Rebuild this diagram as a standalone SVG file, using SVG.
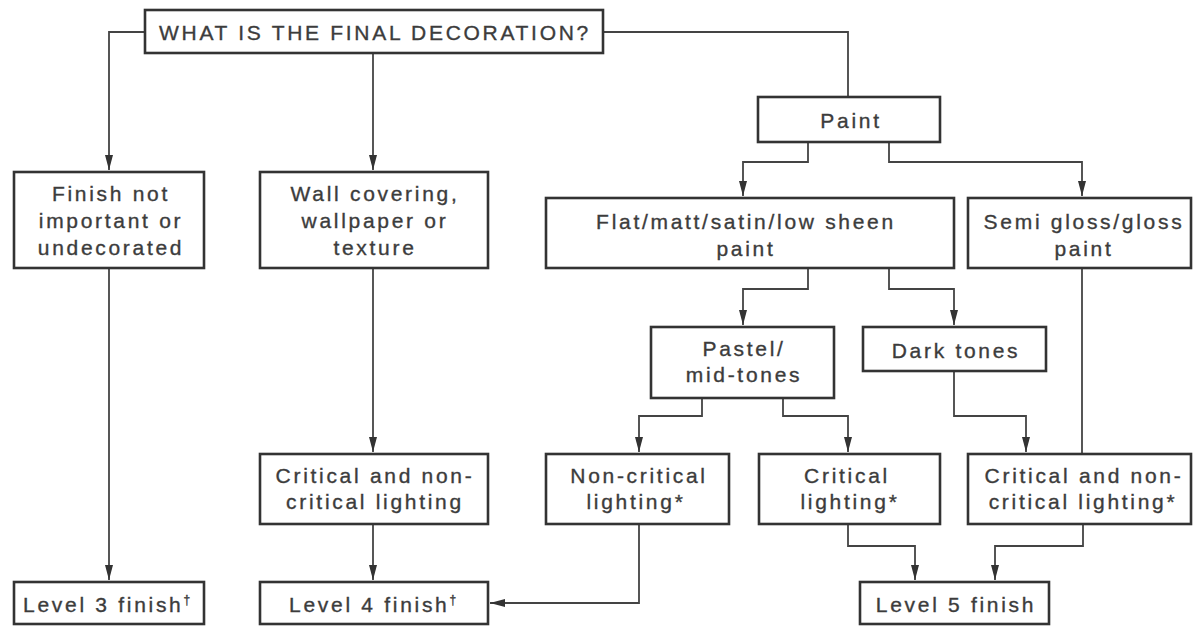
<svg xmlns="http://www.w3.org/2000/svg" width="1194" height="626" viewBox="0 0 1194 626">
<style>
.box{fill:#fff;stroke:#333;stroke-width:2.6}
.t{font-family:"Liberation Sans",Arial,sans-serif;font-size:21px;letter-spacing:2.7px;fill:#3c3c3c;stroke:#3c3c3c;stroke-width:0.35;text-anchor:middle}
.c{fill:none;stroke:#444;stroke-width:1.8}
</style>
<defs>
<marker id="ah" markerUnits="userSpaceOnUse" markerWidth="16" markerHeight="10" refX="15" refY="4.5" orient="auto">
<path d="M0,0.5 L15,4.5 L0,8.5 z" fill="#333"/>
</marker>
</defs>
<rect width="1194" height="626" fill="#fff"/>
<g id="connectors">
<path class="c" d="M145,32 H109 V170" marker-end="url(#ah)"/>
<path class="c" d="M373,53 V170" marker-end="url(#ah)"/>
<path class="c" d="M603,32 H848 V97"/>
<path class="c" d="M808,142 V162 H743 V196" marker-end="url(#ah)"/>
<path class="c" d="M889,142 V162 H1082 V196" marker-end="url(#ah)"/>
<path class="c" d="M808,268 V289 H743 V325" marker-end="url(#ah)"/>
<path class="c" d="M889,268 V289 H954 V325" marker-end="url(#ah)"/>
<path class="c" d="M1082,268 V454"/>
<path class="c" d="M373,268 V452" marker-end="url(#ah)"/>
<path class="c" d="M373,524 V580" marker-end="url(#ah)"/>
<path class="c" d="M109,268 V580" marker-end="url(#ah)"/>
<path class="c" d="M702,398 V416 H639 V452" marker-end="url(#ah)"/>
<path class="c" d="M783,398 V416 H848 V452" marker-end="url(#ah)"/>
<path class="c" d="M954,371 V416 H1026 V452" marker-end="url(#ah)"/>
<path class="c" d="M639,524 V603 H490" marker-end="url(#ah)"/>
<path class="c" d="M848,524 V546 H915 V580" marker-end="url(#ah)"/>
<path class="c" d="M1083,524 V546 H995 V580" marker-end="url(#ah)"/>
</g>
<g id="n-top"><rect class="box" x="145" y="10" width="458" height="43"/><text class="t" x="375" y="40">WHAT IS THE FINAL DECORATION?</text></g>
<g id="n-finish"><rect class="box" x="14" y="172" width="190" height="96"/><text class="t" x="111" y="201">Finish not</text><text class="t" x="111" y="228">important or</text><text class="t" x="111" y="255">undecorated</text></g>
<g id="n-wall"><rect class="box" x="260" y="172" width="228" height="96"/><text class="t" x="375" y="201">Wall covering,</text><text class="t" x="375" y="228">wallpaper or</text><text class="t" x="375" y="255">texture</text></g>
<g id="n-paint"><rect class="box" x="758" y="97" width="182" height="45"/><text class="t" x="851" y="128">Paint</text></g>
<g id="n-flat"><rect class="box" x="546" y="198" width="408" height="70"/><text class="t" x="746" y="229">Flat/matt/satin/low sheen</text><text class="t" x="746" y="256">paint</text></g>
<g id="n-semi"><rect class="box" x="968" y="198" width="223" height="70"/><text class="t" x="1084" y="229">Semi gloss/gloss</text><text class="t" x="1084" y="256">paint</text></g>
<g id="n-pastel"><rect class="box" x="651" y="327" width="183" height="71"/><text class="t" x="744" y="356">Pastel/</text><text class="t" x="744" y="382">mid-tones</text></g>
<g id="n-dark"><rect class="box" x="863" y="327" width="183" height="44"/><text class="t" x="956" y="358">Dark tones</text></g>
<g id="n-critnon-left"><rect class="box" x="260" y="454" width="228" height="70"/><text class="t" x="375" y="483">Critical and non-</text><text class="t" x="375" y="509">critical lighting</text></g>
<g id="n-noncrit"><rect class="box" x="546" y="454" width="183" height="70"/><text class="t" x="639" y="483">Non-critical</text><text class="t" x="636" y="509">lighting*</text></g>
<g id="n-crit"><rect class="box" x="759" y="454" width="181" height="70"/><text class="t" x="847" y="483">Critical</text><text class="t" x="850" y="509">lighting*</text></g>
<g id="n-critnon-right"><rect class="box" x="968" y="454" width="223" height="70"/><text class="t" x="1084" y="483">Critical and non-</text><text class="t" x="1083" y="509">critical lighting*</text></g>
<g id="n-l3"><rect class="box" x="14" y="582" width="190" height="42"/><text class="t" x="108" y="612">Level 3 finish<tspan font-size="12" dy="-8">†</tspan></text></g>
<g id="n-l4"><rect class="box" x="260" y="582" width="228" height="42"/><text class="t" x="374" y="612">Level 4 finish<tspan font-size="12" dy="-8">†</tspan></text></g>
<g id="n-l5"><rect class="box" x="860" y="582" width="189" height="42"/><text class="t" x="956" y="612">Level 5 finish</text></g>
</svg>
